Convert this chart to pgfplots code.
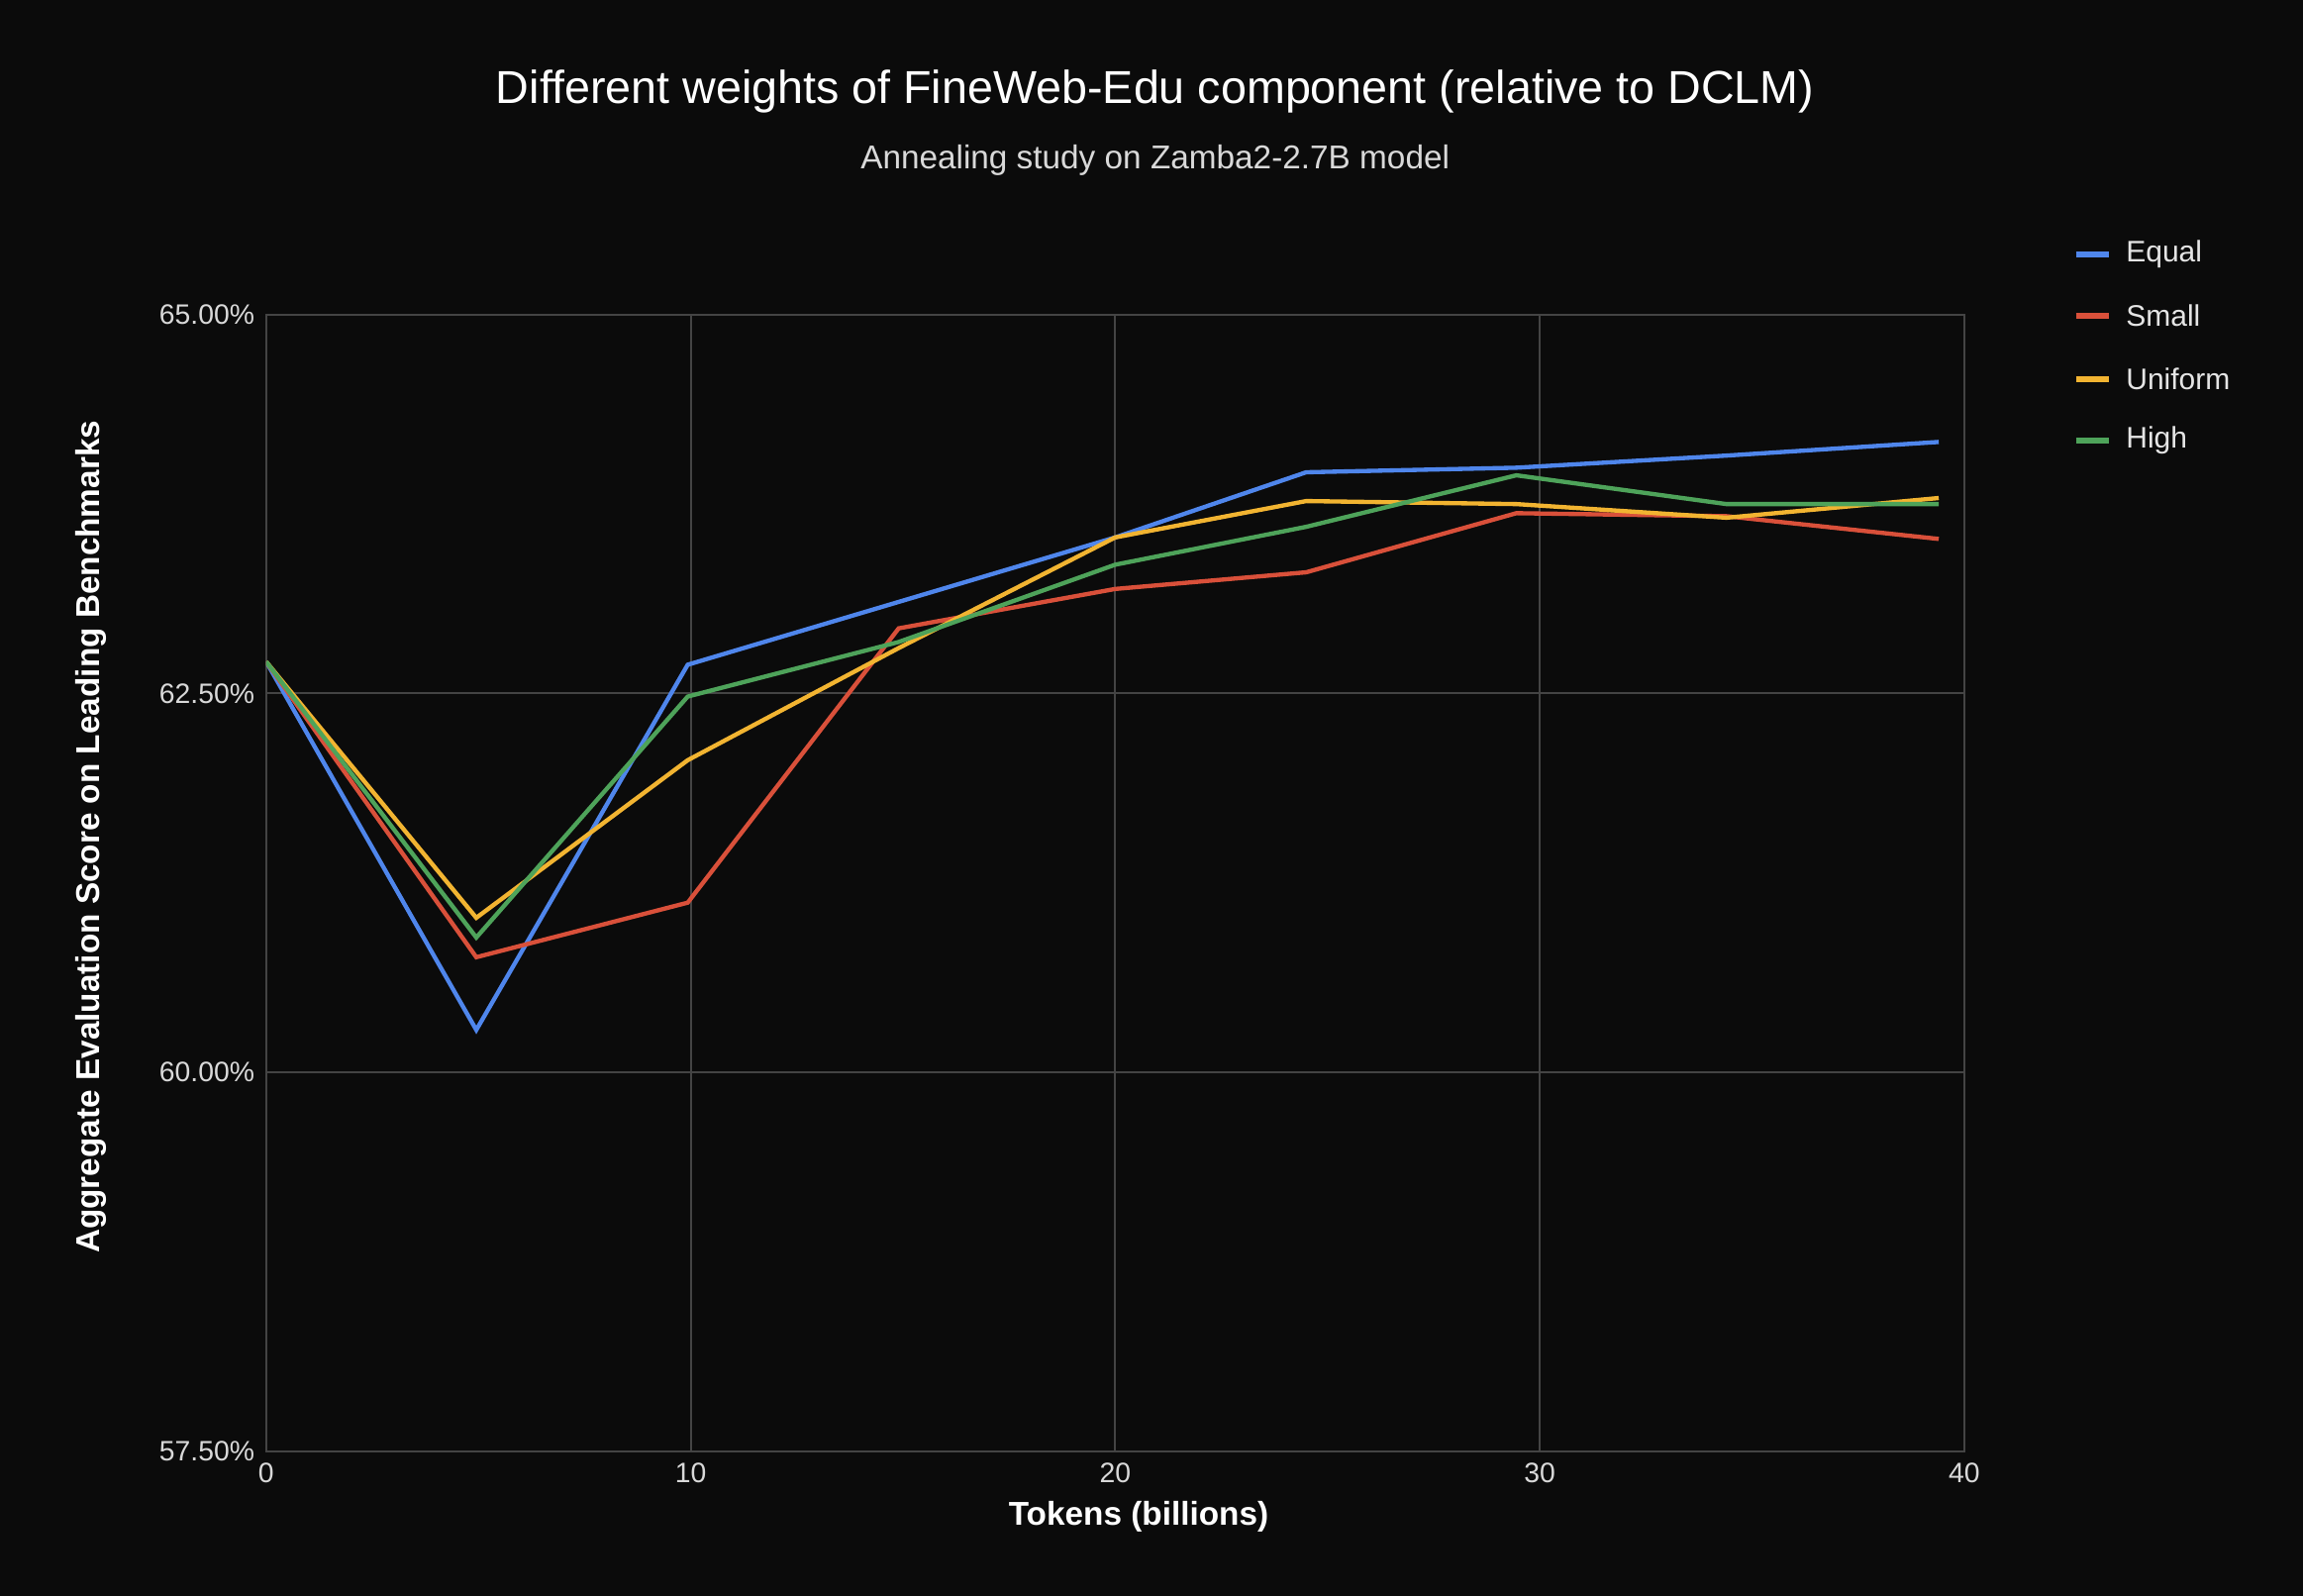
\documentclass[border=0pt]{standalone}
\usepackage{pgfplots}
\pgfplotsset{compat=1.18}
\usepackage{fontspec}
\setmainfont{Liberation Sans}
\definecolor{bg}{HTML}{0B0B0B}
\definecolor{gridc}{HTML}{444444}
\definecolor{cblue}{HTML}{4F86EC}
\definecolor{cred}{HTML}{D9503A}
\definecolor{cyel}{HTML}{F2B431}
\definecolor{cgreen}{HTML}{4EA35A}
\begin{document}
\begin{tikzpicture}[x=1pt,y=1pt]
\fill[bg] (0,0) rectangle (697.8,483.6);
\node[white,font=\fontsize{14}{16}\selectfont] at (350,456) {Different weights of FineWeb-Edu component (relative to DCLM)};
\node[white!85!black,font=\fontsize{10}{12}\selectfont] at (350,435) {Annealing study on Zamba2-2.7B model};
\node[white,font=\bfseries\fontsize{10}{12}\selectfont] at (345,24) {Tokens (billions)};
\node[white,font=\bfseries\fontsize{10}{12}\selectfont,rotate=90] at (27.6,230) {Aggregate Evaluation Score on Leading Benchmarks};
\begin{axis}[at={(62.7,95.5)},anchor=south west,scale only axis,width=514.5,height=344.4,
 xmin=0,xmax=40,ymin=57.5,ymax=65,
 xtick={0,10,20,30,40},ytick={57.5,60,62.5,65},
 yticklabels={57.50\%,60.00\%,62.50\%,65.00\%},
 grid=major,grid style={gridc,line width=0.6pt},
 axis line style={gridc,line width=0.6pt},
 tick style={draw=none},
 ticklabel style={white!85!black,font=\fontsize{8.5}{10}\selectfont},
 /pgf/number format/assume math mode=true,
 every axis plot/.append style={line width=1.3pt,no marks}]
\addplot[cblue] coordinates {(0,62.71)(4.95,60.28)(9.93,62.69)(20,63.53)(24.5,63.96)(29.45,63.99)(34.4,64.07)(39.4,64.16)};
\addplot[cred] coordinates {(0,62.71)(4.95,60.76)(9.93,61.12)(14.9,62.93)(20,63.19)(24.5,63.30)(29.45,63.69)(34.4,63.67)(39.4,63.52)};
\addplot[cyel] coordinates {(0,62.71)(4.95,61.02)(9.93,62.06)(14.9,62.80)(20,63.53)(24.5,63.77)(29.45,63.75)(34.4,63.66)(39.4,63.79)};
\addplot[cgreen] coordinates {(0,62.71)(4.95,60.89)(9.93,62.48)(14.9,62.84)(20,63.35)(24.5,63.60)(29.45,63.94)(34.4,63.75)(39.4,63.75)};
\end{axis}
\foreach \c/\t/\y in {cblue/Equal/406.5,cred/Small/387.9,cyel/Uniform/368.7,cgreen/High/350.1}{
 \draw[\c,line width=2pt] (629,\y) -- (639,\y);
 \node[anchor=west,white!90!black,font=\fontsize{9}{11}\selectfont,inner sep=0] at (644,\y) {\t};
}
\end{tikzpicture}
\end{document}
